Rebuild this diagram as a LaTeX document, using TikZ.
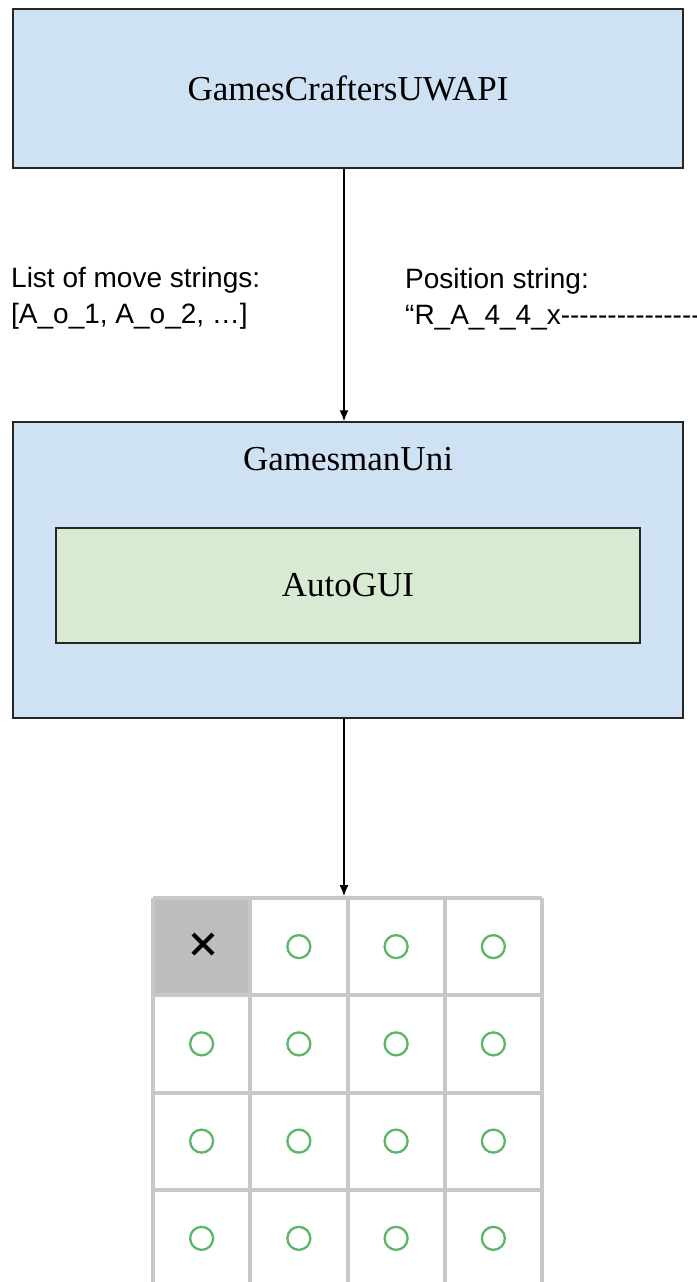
\documentclass[tikz,border=0pt]{standalone}
\usepackage{fontspec}
\setmainfont{Liberation Serif}
\newfontfamily\labelfont{Liberation Sans}
\usetikzlibrary{arrows.meta}
\definecolor{boxblue}{HTML}{CFE2F3}
\definecolor{boxgreen}{HTML}{D9EAD3}
\definecolor{gridgray}{HTML}{C8C8C8}
\definecolor{cellgray}{HTML}{BDBDBD}
\definecolor{ringgreen}{HTML}{5DB56A}
\newcommand\dashrun{\foreach \i in {1,...,18}{-\kern0pt}}
\begin{document}
\begin{tikzpicture}[x=1pt,y=-1pt,
  box/.style={draw=black!85,line width=1.5pt,inner sep=0pt,font=\fontsize{35}{42}\selectfont},
  lbl/.style={anchor=base west,inner sep=0pt,font=\labelfont\fontsize{28}{40}\selectfont},
  arr/.style={line width=1.3pt,-{Latex[length=11pt,width=9pt]}},
  gridline/.style={draw=gridgray,line width=4pt},
  ring/.style={draw=ringgreen,line width=2.3pt}]
\useasboundingbox (0,0) rectangle (696,1282);
% boxes
\node[box,fill=boxblue,minimum width=670pt,minimum height=159pt] (api) at (348,88.5) {GamesCraftersUWAPI};
\node[box,fill=boxblue,minimum width=670pt,minimum height=296pt] (uni) at (348,570) {};
\node[anchor=base,font=\fontsize{35}{42}\selectfont] (unititle) at (348,470) {GamesmanUni};
\node[box,fill=boxgreen,minimum width=584pt,minimum height=115pt] (gui) at (348,585.5) {AutoGUI};
% labels
\node[lbl] (movehead) at (11,287) {List of move strings:};
\node[lbl] (movelist) at (11,323) {[A\_o\_1, A\_o\_2, …]};
\node[lbl] (poshead) at (405,288) {Position string:};
\node[lbl] (posvalue) at (405,324) {“R\_A\_4\_4\_x\dashrun};
% board
\fill[cellgray] (153,898) rectangle (250.25,995.25);
\foreach \k in {0,...,4} \draw[gridline] ({153+97.25*\k},898) -- ({153+97.25*\k},1282);
\foreach \k in {0,...,3} \draw[gridline] (153,{898+97.25*\k}) -- (542,{898+97.25*\k});
\draw[line width=4pt] (193,934) -- (213,954) (193,954) -- (213,934);
\foreach \r in {0,...,3}{
  \foreach \c in {0,...,3}{
    \ifnum\r\c=0\else
      \draw[ring] ({201.6+97.25*\c},{946.6+97.25*\r}) circle[radius=11.5pt];
    \fi}}
\coordinate (boardtop) at (344,896);
% arrows
\draw[arr] ([xshift=-4pt]api.south) -- ([xshift=-4pt]uni.north);
\draw[arr] ([xshift=-4pt]uni.south) -- (boardtop);
\end{tikzpicture}
\end{document}
